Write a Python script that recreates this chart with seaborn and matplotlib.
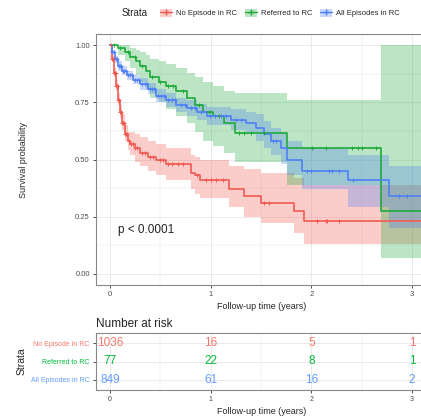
import numpy as np
import pandas as pd
import seaborn as sns
import matplotlib.pyplot as plt
from matplotlib.patches import Patch
from matplotlib.lines import Line2D
from matplotlib.ticker import MultipleLocator

# Strata and colours
strata = ['No Episode in RC', 'Referred to RC', 'All Episodes in RC']
colors = ['#F05A52', '#1FAA3C', '#4F80F5']
text_colors = ['#F8766D', '#00BA38', '#619CFF']

# Kaplan-Meier step curves
red_t = [0, 0.02, 0.04, 0.06, 0.08, 0.10, 0.12, 0.15, 0.18, 0.20, 0.25, 0.30, 0.38, 0.46, 0.56,
         0.80, 0.84, 0.89, 1.18, 1.33, 1.50, 1.83, 1.93, 3.40]
red_s = [1.0, 0.94, 0.88, 0.82, 0.76, 0.71, 0.66, 0.61, 0.58, 0.57, 0.55, 0.53, 0.51, 0.50, 0.48,
         0.44, 0.43, 0.41, 0.37, 0.34, 0.31, 0.276, 0.232, 0.232]
red_lo = [1.0, 0.93, 0.86, 0.80, 0.74, 0.68, 0.63, 0.58, 0.54, 0.52, 0.49, 0.47, 0.45, 0.43, 0.41,
          0.37, 0.35, 0.33, 0.29, 0.25, 0.22, 0.18, 0.13, 0.13]
red_hi = [1.0, 0.96, 0.90, 0.85, 0.79, 0.74, 0.70, 0.65, 0.62, 0.62, 0.61, 0.60, 0.58, 0.57, 0.55,
          0.52, 0.51, 0.50, 0.47, 0.46, 0.44, 0.42, 0.39, 0.39]
red_cens = [0.01, 0.02, 0.03, 0.035, 0.04, 0.05, 0.055, 0.06, 0.07, 0.075, 0.08, 0.09, 0.10, 0.11,
            0.12, 0.13, 0.14, 0.15, 0.16, 0.17, 0.19, 0.21, 0.23, 0.25, 0.27, 0.32, 0.35, 0.40,
            0.43, 0.50, 0.53, 0.58, 0.62, 0.68, 0.72, 0.86, 0.95, 1.00, 1.05, 1.12, 1.53, 1.58,
            2.06, 2.15, 2.16, 2.28]

green_t = [0, 0.08, 0.15, 0.20, 0.26, 0.30, 0.36, 0.40, 0.49, 0.56, 0.66, 0.76, 0.84, 0.92, 1.02,
           1.13, 1.24, 1.76, 2.69, 3.40]
green_s = [1.0, 0.99, 0.97, 0.95, 0.93, 0.91, 0.89, 0.86, 0.84, 0.82, 0.80, 0.77, 0.74, 0.71, 0.69,
           0.66, 0.615, 0.55, 0.276, 0.276]
green_lo = [1.0, 0.96, 0.93, 0.90, 0.87, 0.84, 0.81, 0.77, 0.75, 0.72, 0.69, 0.66, 0.62, 0.58, 0.56,
            0.53, 0.49, 0.39, 0.07, 0.07]
green_hi = [1.0, 1.0, 1.0, 0.99, 0.98, 0.97, 0.96, 0.94, 0.93, 0.92, 0.90, 0.88, 0.86, 0.84, 0.82,
            0.80, 0.79, 0.76, 1.0, 1.0]
green_cens = [0.04, 0.10, 0.18, 0.25, 0.32, 0.42, 0.50, 0.58, 0.63, 0.72, 0.88, 0.98, 1.08, 1.28,
              1.33, 1.40, 1.53, 2.01, 2.15, 2.40, 2.46, 2.50, 2.64]

blue_t = [0, 0.02, 0.05, 0.08, 0.12, 0.17, 0.23, 0.30, 0.38, 0.46, 0.56, 0.66, 0.76, 0.86, 0.96,
          1.20, 1.35, 1.45, 1.53, 1.60, 1.70, 1.76, 1.91, 2.36, 2.77, 3.40]
blue_s = [1.0, 0.97, 0.94, 0.91, 0.89, 0.87, 0.85, 0.83, 0.81, 0.78, 0.76, 0.74, 0.725, 0.71, 0.69,
          0.675, 0.66, 0.64, 0.61, 0.58, 0.55, 0.50, 0.45, 0.41, 0.34, 0.34]
blue_lo = [1.0, 0.96, 0.925, 0.89, 0.87, 0.85, 0.83, 0.805, 0.785, 0.75, 0.73, 0.71, 0.69, 0.675,
           0.65, 0.63, 0.61, 0.58, 0.55, 0.52, 0.48, 0.43, 0.37, 0.29, 0.20, 0.20]
blue_hi = [1.0, 0.98, 0.955, 0.93, 0.91, 0.89, 0.87, 0.855, 0.835, 0.81, 0.79, 0.77, 0.76, 0.745,
           0.73, 0.72, 0.71, 0.70, 0.67, 0.64, 0.62, 0.58, 0.55, 0.52, 0.47, 0.47]
blue_cens = [0.02, 0.04, 0.06, 0.07, 0.09, 0.10, 0.11, 0.13, 0.14, 0.16, 0.18, 0.20, 0.22, 0.25,
             0.27, 0.29, 0.32, 0.35, 0.37, 0.40, 0.42, 0.44, 0.48, 0.51, 0.54, 0.58, 0.62, 0.65,
             0.70, 0.74, 0.80, 0.84, 0.90, 0.99, 1.04, 1.10, 1.15, 1.25, 1.30, 1.62, 1.65, 1.96,
             2.00, 2.18, 2.21, 2.28, 2.41, 2.87, 2.95]

# Number at risk table
risk_times = [0, 1, 2, 3]
risk_red = [1036, 16, 5, 1]
risk_green = [77, 22, 8, 1]
risk_blue = [849, 61, 16, 2]

curves = [
    (red_t, red_s, red_lo, red_hi, red_cens),
    (green_t, green_s, green_lo, green_hi, green_cens),
    (blue_t, blue_s, blue_lo, blue_hi, blue_cens),
]
risks = [risk_red, risk_green, risk_blue]

sns.set_style('white')
plt.rcParams['font.family'] = ['Liberation Sans', 'DejaVu Sans']

fig = plt.figure(figsize=(4.21, 4.16), dpi=100)
ax = fig.add_axes([96 / 421, 1 - 285 / 416, 332 / 421, 251 / 416])
ax2 = fig.add_axes([96 / 421, 1 - 390 / 416, 332 / 421, 57 / 416])

grid_col = '#E6E6E6'
tick_col = '#4D4D4D'

# Main survival plot
for (t, s, lo, hi, cens), col, name in zip(curves, colors, strata):
    df = pd.DataFrame({'time': t, 'surv': s})
    ax.fill_between(t, lo, hi, step='post', color=col, alpha=0.3, lw=0)
    sns.lineplot(data=df, x='time', y='surv', drawstyle='steps-post', estimator=None,
                 color=col, lw=1.2, ax=ax)
    idx = np.searchsorted(t, cens, side='right') - 1
    cdf = pd.DataFrame({'time': cens, 'surv': np.array(s)[idx]})
    sns.scatterplot(data=cdf, x='time', y='surv', marker='+', s=7, color=col,
                    linewidth=0.7, ax=ax, zorder=4)

ax.set_xlim(-0.14, 3.16)
ax.set_ylim(-0.05, 1.05)
ax.xaxis.set_major_locator(MultipleLocator(1))
ax.xaxis.set_minor_locator(MultipleLocator(0.5))
ax.yaxis.set_major_locator(MultipleLocator(0.25))
ax.yaxis.set_minor_locator(MultipleLocator(0.125))
ax.set_yticklabels([f'{v:.2f}' for v in ax.get_yticks()])
ax.grid(which='major', color=grid_col, lw=0.6)
ax.grid(which='minor', color=grid_col, lw=0.35)
ax.set_axisbelow(True)
ax.tick_params(which='major', length=2.5, width=0.6, color='#333333', labelsize=5.5,
               labelcolor=tick_col, pad=2, bottom=True, left=True)
ax.tick_params(which='minor', length=0)
ax.set_xlabel('Follow-up time (years)', fontsize=6.5, labelpad=3)
ax.set_ylabel('Survival probability', fontsize=6.5, labelpad=34)
for sp in ax.spines.values():
    sp.set_color('#888888')
    sp.set_linewidth(0.8)
ax.text(0.08, 0.19, 'p < 0.0001', fontsize=8.5, va='center', ha='left', color='#222222')

# Risk table
for row, (vals, col) in enumerate(zip(risks, text_colors)):
    for tm, v in zip(risk_times, vals):
        ax2.text(tm, 3 - row, str(v), color=col, fontsize=8.5, ha='center', va='center')

ax2.set_xlim(-0.14, 3.16)
ax2.set_ylim(0.45, 3.55)
ax2.xaxis.set_major_locator(MultipleLocator(1))
ax2.xaxis.set_minor_locator(MultipleLocator(0.5))
ax2.set_yticks([3, 2, 1])
ax2.set_yticklabels(strata)
for lab, col in zip(ax2.get_yticklabels(), text_colors):
    lab.set_color(col)
ax2.grid(which='major', color=grid_col, lw=0.6)
ax2.grid(which='minor', axis='x', color=grid_col, lw=0.35)
ax2.tick_params(which='major', length=2.5, width=0.6, color='#333333', labelsize=5,
                pad=2, bottom=True, left=True)
ax2.tick_params(axis='x', labelcolor=tick_col)
ax2.tick_params(which='minor', length=0)
ax2.set_xlabel('Follow-up time (years)', fontsize=6.5, labelpad=3)
ax2.set_ylabel('Strata', fontsize=7.5, labelpad=3)
ax2.set_title('Number at risk', fontsize=8.5, loc='left', pad=4)
for sp in ax2.spines.values():
    sp.set_color('#888888')
    sp.set_linewidth(0.8)

# Legend at top
handles = [(Patch(facecolor=c, alpha=0.3, lw=0), Line2D([], [], color=c, lw=1, marker='+',
            markersize=4)) for c in colors]
fig.legend(handles, strata, ncol=3, loc='center', bbox_to_anchor=(0.665, 1 - 13 / 416),
           frameon=False, fontsize=5.5, handlelength=1.6, handleheight=1.4,
           columnspacing=1.0, handletextpad=0.5)
fig.text(122 / 421, 1 - 13 / 416, 'Strata', fontsize=7, va='center', ha='left')

fig.savefig('out.png', dpi=100)
